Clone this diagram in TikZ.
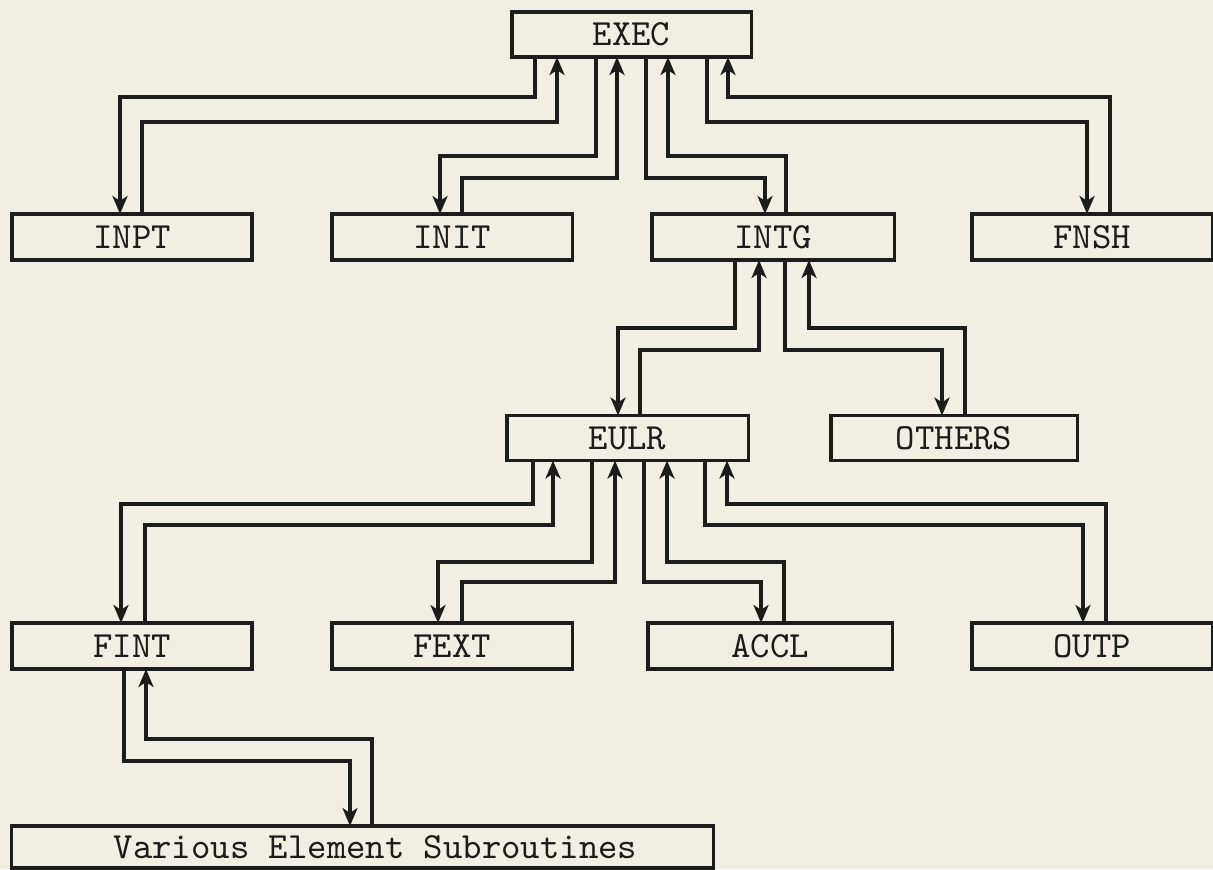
\documentclass[tikz,border=0pt]{standalone}
\usepackage{fontspec}
\usetikzlibrary{arrows.meta}
\definecolor{paper}{HTML}{F1EEE3}
\definecolor{ink}{HTML}{1C1C1C}

\begin{document}
\begin{tikzpicture}[
  % one unit = one pixel of the original chart, y runs downwards
  x=0.01cm, y=-0.01cm,
  >={Stealth[length=1.8mm, width=1.5mm, inset=0.5mm]},
  font=\ttfamily\fontsize{10.5}{12}\selectfont,
  box/.style={draw=ink, line width=0.9pt, inner sep=0pt, outer sep=0pt,
              minimum height=4.6mm, text=ink},
  arr/.style={->, draw=ink, line width=0.9pt},
]
  \fill[paper] (0,0) rectangle (1213,869);
  \useasboundingbox (0,0) rectangle (1213,869);

  % --- boxes, row by row ---
  \foreach \name/\x/\y/\w/\h/\lab in {
      exec/631.5/34.5/23.9mm/4.5mm/EXEC,
      inpt/132/237/24mm/4.6mm/INPT,
      init/452/237/24mm/4.6mm/INIT,
      intg/773/237/24.2mm/4.6mm/INTG,
      fnsh/1092/237/24mm/4.6mm/FNSH,
      eulr/627.5/438/24.1mm/4.5mm/EULR,
      others/954/438/24.6mm/4.5mm/OTHERS,
      fint/132/646/24mm/4.6mm/FINT,
      fext/452/646/24mm/4.6mm/FEXT,
      accl/770/646/24.4mm/4.6mm/ACCL,
      outp/1092/646/24mm/4.6mm/OUTP,
      various/362.5/847/70.1mm/4.2mm/{\hspace*{2.6mm}Various Element Subroutines}%
  }{
    \node[box, minimum width=\w, minimum height=\h] (\name) at (\x,\y) {\lab};
  }

  % --- call (down) and return (up) lines for each pair ---
  \foreach \s/\d/\xa/\ha/\xb/\xc/\hc/\xd in {
      exec/inpt/535/97/120/142/122/557,
      exec/init/596/156/440/462/178/617,
      exec/intg/646/178/765/786/156/668,
      exec/fnsh/707/122/1087/1110/97/728,
      intg/eulr/735/328/618/640/350/759,
      intg/others/785/350/942/965/328/809,
      eulr/fint/533/504/121/145/525/553,
      eulr/fext/592/562/438/462/582/615,
      eulr/accl/644/582/761/784/562/667,
      eulr/outp/705/525/1083/1106/504/727,
      fint/various/124/761/350/372/739/146%
  }{
    \draw[arr] (\s.south -| \xa,0) |- (\xb,\ha) -- (\d.north -| \xb,0);
    \draw[arr] (\d.north -| \xc,0) |- (\xd,\hc) -- (\s.south -| \xd,0);
  }
\end{tikzpicture}
\end{document}
